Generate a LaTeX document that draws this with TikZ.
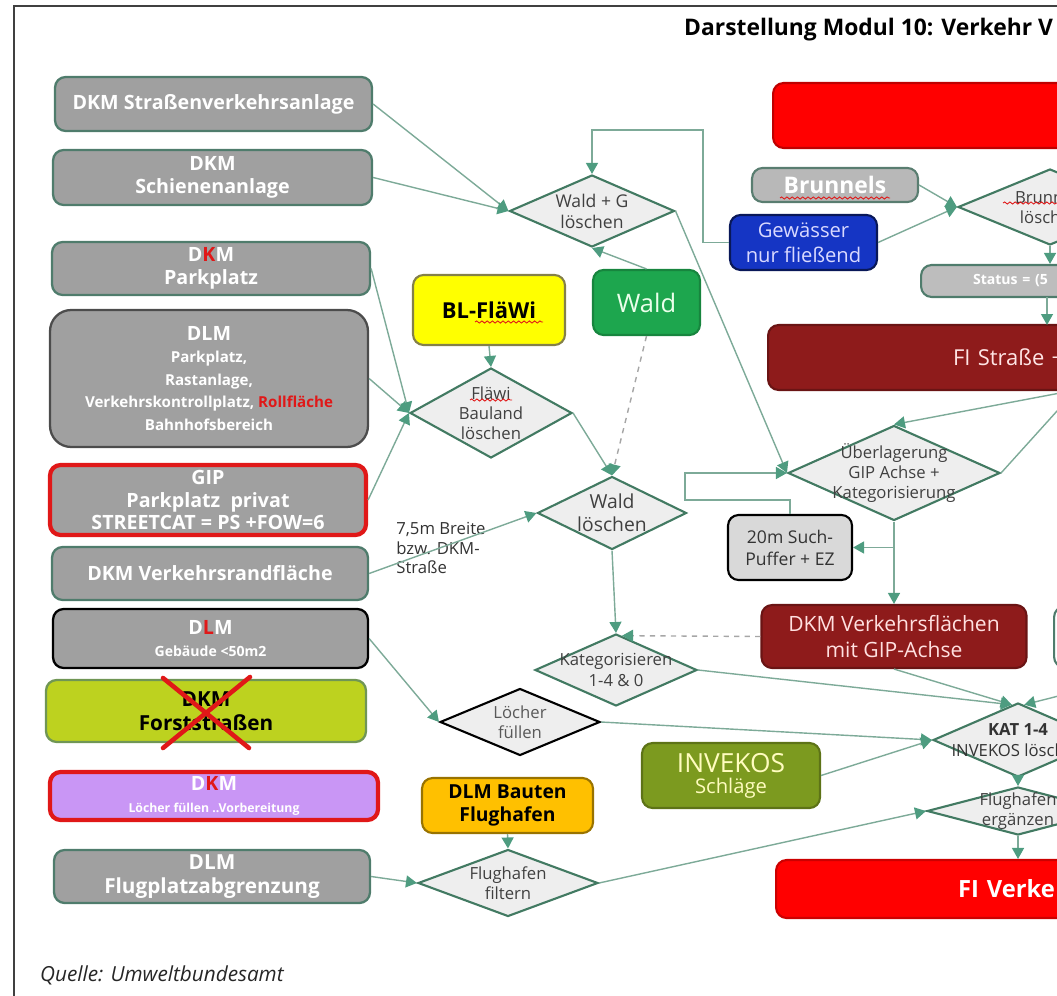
\documentclass[tikz,border=0pt]{standalone}
\usepackage{fontspec}
\setmainfont{Open Sans}
\usetikzlibrary{shapes.geometric,arrows.meta,decorations.pathmorphing}

\definecolor{linegreen}{HTML}{7DAA98}
\definecolor{tipgreen}{HTML}{4E9C80}
\definecolor{boxedge}{HTML}{4F7C6C}
\definecolor{diaedge}{HTML}{427A62}
\definecolor{diafill}{HTML}{EEEEEE}
\definecolor{diatext}{HTML}{404040}
\definecolor{boxgray}{HTML}{A0A0A0}
\definecolor{dkred}{HTML}{8E1B1B}
\definecolor{brightred}{HTML}{FF0000}
\definecolor{xred}{HTML}{E01818}
\definecolor{limegreen}{HTML}{BDD21F}
\definecolor{lilac}{HTML}{C996F5}
\definecolor{waldgreen}{HTML}{1DA64E}
\definecolor{flyellow}{HTML}{FFFF00}
\definecolor{bauorange}{HTML}{FFC000}
\definecolor{involive}{HTML}{7C9A1F}
\definecolor{gewblue}{HTML}{1535C4}

\newcommand\smtext{\fontsize{8.6}{12}\selectfont}

\begin{document}
\begin{tikzpicture}[x=0.02cm, y=-0.02cm, >={Triangle[length=0.22cm,width=0.24cm,color=tipgreen]}]
    \tikzstyle{src}=[draw=boxedge, line width=1.3pt, rounded corners=6pt, fill=boxgray, text=white, align=center, inner sep=0pt, font=\bfseries\fontsize{11.2}{12.8}\selectfont]
    \tikzstyle{dec}=[diamond, draw=diaedge, line width=1.2pt, fill=diafill, inner sep=0pt]
    \tikzstyle{dtext}=[align=center, text=diatext, inner sep=0pt, font=\fontsize{9.5}{11.5}\selectfont]
    \tikzstyle{tile}=[draw, line width=1.2pt, rounded corners=6pt, align=center, inner sep=0pt]
    \tikzstyle{con}=[draw=linegreen, line width=0.8pt]
    \tikzstyle{squig}=[draw=xred, line width=0.5pt, decorate, decoration={snake, amplitude=0.6pt, segment length=3pt}]

    \useasboundingbox (0,0) rectangle (1057,996);
    \clip (0,0) rectangle (1057,996);
    \draw[black!75, line width=1.2pt] (14,1010) -- (14,6) -- (1070,6);

    % title and source
    \node[anchor=west, font=\bfseries\fontsize{13}{15}\selectfont] (title) at (678,30) {Darstellung Modul 10: Verkehr V};
    \node[anchor=west, text=black!85, font=\itshape\fontsize{11.8}{14}\selectfont] (quelle) at (34,975) {Quelle: Umweltbundesamt};

    % left column: input layers
    \node[src, minimum width=6.34cm, minimum height=1.08cm] (strasse) at (213.5,104) {DKM Straßenverkehrsanlage};
    \node[src, minimum width=6.38cm, minimum height=1.10cm] (schiene) at (212.5,177.5) {DKM\\Schienenanlage};
    \node[src, minimum width=6.36cm, minimum height=1.06cm] (parkdkm) at (211,268.5) {D{\color{xred}K}M\\Parkplatz};
    \node[src, draw=black!70, rounded corners=12pt, minimum width=6.36cm, minimum height=2.74cm] (parkdlm) at (209,378.5)
        {DLM\\\smtext Parkplatz,\\\smtext Rastanlage,\\\smtext Verkehrskontrollplatz, {\color{xred}Rollfläche}\\\smtext Bahnhofsbereich};
    \node[src, draw=xred, line width=2.4pt, minimum width=6.32cm, minimum height=1.40cm] (gip) at (208,500) {GIP\\Parkplatz~~privat\\STREETCAT = PS +FOW=6};
    \node[src, minimum width=6.32cm, minimum height=1.06cm] (rand) at (210,573.5) {DKM Verkehrsrandfläche};
    \node[src, draw=black, minimum width=6.30cm, minimum height=1.18cm] (gebaeude) at (210.5,638.5)
        {D{\color{xred}L}M\\{\fontsize{8}{10}\selectfont Gebäude <50m2}};
    \node[src, draw=boxedge!70!limegreen, fill=limegreen, text=black, font=\bfseries\fontsize{11.8}{14}\selectfont, minimum width=6.40cm, minimum height=1.24cm] (forst) at (206,711) {DKM\\Forststraßen};
    \node[src, draw=xred, line width=2.4pt, fill=lilac, minimum width=6.56cm, minimum height=0.96cm] (loecherdkm) at (214,796)
        {D{\color{xred}K}M\\{\fontsize{7}{9}\selectfont Löcher füllen ..Vorbereitung}};
    \node[src, minimum width=6.32cm, minimum height=1.06cm, font=\bfseries\fontsize{11.8}{14}\selectfont] (flugplatz) at (212,876.5) {DLM\\Flugplatzabgrenzung};
    \draw[xred, line width=2.6pt, line cap=round] (163,678) -- (249,748) (250,677) -- (163,748);

    % middle: processing steps
    \node[dec, minimum width=3.30cm, minimum height=1.44cm, label={[dtext, font=\fontsize{10}{12}\selectfont]center:Wald + G\\löschen}] (waldg) at (592,211) {};
    \node[tile, draw=black!55!yellow, fill=flyellow, font=\bfseries\fontsize{12.5}{15}\selectfont, minimum width=3.04cm, minimum height=1.40cm] (flaewibox) at (489,310) {BL-FläWi};
    \node[tile, draw=waldgreen!80!black, fill=waldgreen, text=white!92!green, font=\fontsize{14.5}{16}\selectfont, minimum width=2.14cm, minimum height=1.30cm] (waldbox) at (646.5,302.5) {Wald};
    \node[dec, minimum width=3.24cm, minimum height=1.80cm, label={[dtext]center:Fläwi\\Bauland\\löschen}] (flaewi) at (491,413) {};
    \node[dec, minimum width=2.98cm, minimum height=1.46cm, label={[dtext, font=\fontsize{11}{13}\selectfont]center:Wald\\löschen}] (waldl) at (612,513) {};
    \node[anchor=west, align=left, text=black!80, inner sep=0pt, font=\fontsize{9.5}{11.3}\selectfont] (breite) at (396,548) {7,5m Breite\\bzw. DKM-\\Straße};
    \node[dec, minimum width=3.24cm, minimum height=1.44cm, label={[dtext]center:Kategorisieren\\1-4 \& 0}] (kat) at (616,670) {};
    \node[dec, draw=black, minimum width=3.20cm, minimum height=1.34cm, label={[dtext, text=black!65]center:Löcher\\füllen}] (loecher) at (520,722) {};
    \node[tile, draw=bauorange!60!black, fill=bauorange, font=\bfseries\fontsize{11}{13.5}\selectfont, minimum width=3.42cm, minimum height=1.10cm] (bauten) at (507.5,805.5) {DLM Bauten\\Flughafen};
    \node[dec, minimum width=3.60cm, minimum height=1.34cm, label={[dtext]center:Flughafen\\filtern}] (flugfilt) at (508,883) {};

    % right part
    \node[tile, anchor=west, draw=brightred!75!black, fill=brightred, minimum width=8cm, minimum height=1.30cm] (bigred) at (772,115.5) {};
    \node[tile, draw=boxedge!80!gray, fill=boxgray!75!white, text=white, font=\bfseries\fontsize{13}{15}\selectfont, minimum width=3.32cm, minimum height=0.68cm] (brunnelsbox) at (835,185) {Brunnels};
    \node[tile, draw=gewblue!45!black, fill=gewblue, text=blue!15!white, font=\fontsize{11.5}{14}\selectfont, minimum width=2.94cm, minimum height=1.10cm] (gewaesser) at (803.5,242.5) {Gewässer\\nur fließend};
    \node[dec, minimum width=3.68cm, minimum height=1.52cm, label={[dtext]center:Brunnels\\löschen}] (brunnel) at (1050,207) {};
    \node[tile, anchor=west, draw=boxedge, fill=boxgray!70!white, text=white, align=left, font=\bfseries\fontsize{8}{10}\selectfont, inner xsep=1.04cm, text width=3cm, minimum height=0.64cm] (status) at (920,281) {Status = (5};
    \node[tile, anchor=west, draw=dkred!75!black, fill=dkred, text=white!90!red, align=left, font=\fontsize{12.5}{15}\selectfont, inner xsep=3.70cm, text width=3cm, minimum height=1.30cm] (fistr) at (767,357.5) {FI Straße +};
    \node[dec, minimum width=4.24cm, minimum height=1.90cm, label={[dtext, font=\fontsize{9.5}{11.3}\selectfont]center:Überlagerung\\GIP Achse +\\Kategorisierung}] (ueber) at (894,473) {};
    \node[tile, draw=black, fill=black!15, text=black!80, font=\fontsize{10}{12.5}\selectfont, minimum width=2.48cm, minimum height=1.30cm] (suchpuffer) at (790,547.5) {20m Such-\\Puffer + EZ};
    \node[tile, draw=dkred!75!black, fill=dkred, text=white!88!red, font=\fontsize{12}{15}\selectfont, minimum width=5.30cm, minimum height=1.26cm] (dkmvf) at (894,636.5) {DKM Verkehrsflächen\\mit GIP-Achse};
    \node[tile, anchor=west, draw=boxedge, fill=white, minimum width=3cm, minimum height=1.22cm] (rechts) at (1053,637) {};
    \node[tile, draw=involive!75!black, fill=involive, text=yellow!25!white, minimum width=3.56cm, minimum height=1.30cm] (invekos) at (731,775.5)
        {{\fontsize{15}{17}\selectfont INVEKOS}\\{\fontsize{11.5}{13}\selectfont Schläge}};
    \node[dec, minimum width=3.40cm, minimum height=1.48cm, label={[dtext, text=black!80]center:\textbf{KAT 1-4}\\INVEKOS löschen}] (katinv) at (1018,740) {};
    \node[dec, minimum width=3.64cm, minimum height=0.96cm, label={[dtext]center:Flughafen\\ergänzen}] (flugerg) at (1018,811) {};
    \node[tile, anchor=west, draw=brightred!80!black, fill=brightred, text=white, align=left, font=\bfseries\fontsize{13.5}{16}\selectfont, inner xsep=3.64cm, text width=3cm, minimum height=1.16cm] (fiverk) at (775,889) {FI Verke};

    % spelling marks
    \draw[squig] (475,322) -- (543,322);
    \draw[squig] (470,400) -- (512,400);
    \draw[squig] (780,198) -- (890,198);
    \draw[squig] (1003,203) -- (1057,203);

    \coordinate (fiout) at (1076,390);
    \coordinate (katrechts) at (1090,688);

    % connectors
    \draw[con, ->] (strasse.east) -- (waldg.west);
    \draw[con, ->] (schiene.east) -- (waldg.west);
    \draw[con, ->] (gewaesser.west) -| (703,130) -| (waldg.north);
    \draw[con, ->] (waldbox.north) -- (waldg.south);
    \draw[con, ->] (waldg.east) -- (ueber.west);
    \draw[con, ->] (parkdkm.east) -- (flaewi.west);
    \draw[con, ->] (parkdlm.east) -- (flaewi.west);
    \draw[con, ->] (gip.east) -- (flaewi.west);
    \draw[con, ->] (flaewibox.south) -- (flaewi.north);
    \draw[con, ->] (flaewi.east) -- (waldl.north);
    \draw[con, ->, dashed, draw=black!35] (waldbox.south) -- (waldl.north);
    \draw[con, ->] (rand.east) -- (waldl.west);
    \draw[con, ->] (waldl.south) -- (kat.north);
    \draw[con, ->] (suchpuffer.north) |- (685,500) |- (ueber.west);
    \draw[con, ->] (ueber.south) -- (dkmvf.north);
    \draw[con, ->] (ueber.south |- suchpuffer.east) -- (suchpuffer.east);
    \draw[con, ->, dashed, draw=black!35] (dkmvf.west) -- (kat.80);
    \draw[con, ->] (kat.east) -- (katinv.100);
    \draw[con, ->] (dkmvf.south) -- (katinv.100);
    \draw[con, ->] (katrechts) -- (katinv.80);
    \draw[con, ->] (gebaeude.east) -- (loecher.west);
    \draw[con, ->] (loecher.east) -- (katinv.west);
    \draw[con, ->] (invekos.east) -- (katinv.west);
    \draw[con, ->] (katinv.south) -- (flugerg.north);
    \draw[con, ->] (flugerg.south) -- (flugerg.south |- fiverk.north);
    \draw[con, ->] (bauten.south) -- (flugfilt.north);
    \draw[con, ->] (flugplatz.east) -- (flugfilt.west);
    \draw[con, ->] (flugfilt.east) -- (flugerg.west);
    \draw[con, ->] (brunnelsbox.east) -- (brunnel.west);
    \draw[con, ->] (gewaesser.east) -- (brunnel.west);
    \draw[con, ->] (brunnel.south) -- (brunnel.south |- status.north);
    \draw[con, ->] (1047,297) -- (1047,325);
    \draw[con, ->] (fiout) -- (ueber.north);
    \draw[con] (ueber.east) -- (fiout);
\end{tikzpicture}
\end{document}
